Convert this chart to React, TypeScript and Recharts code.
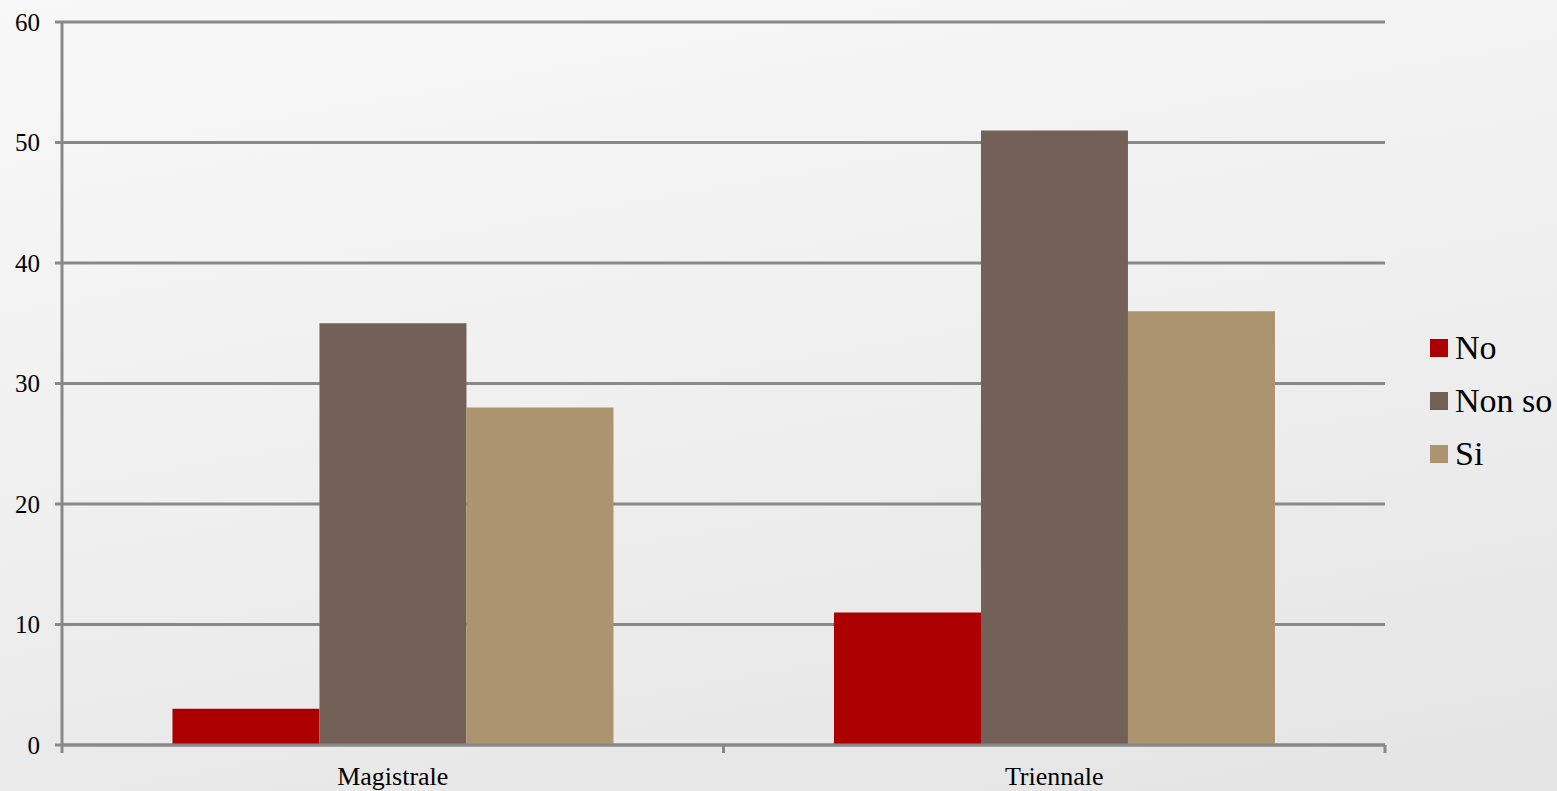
import { Bar, BarChart, CartesianGrid, XAxis, YAxis } from 'recharts';

const categories = ['Magistrale', 'Triennale'];
const noValues = [3, 11];
const nonSoValues = [35, 51];
const siValues = [28, 36];
const yTicks = [0, 10, 20, 30, 40, 50, 60];

const series = [
  { key: 'No', color: '#AC0000' },
  { key: 'Non so', color: '#736056' },
  { key: 'Si', color: '#AD9470' },
];

const data = categories.map((name, i) => ({
  name,
  No: noValues[i],
  'Non so': nonSoValues[i],
  Si: siValues[i],
}));

const W = 1557;
const H = 791;
const margin = { top: 22, right: 172, left: 0, bottom: 0 };
const axisColor = '#898989';
const font = 'Liberation Serif';
const halfBand = (W - 62 - margin.right) / categories.length / 2;

function CategoryTick(props: any) {
  const { x, y, payload, index } = props;
  const top = y - 8;
  return (
    <g>
      <line x1={x - halfBand} x2={x - halfBand} y1={top} y2={top + 8} stroke={axisColor} strokeWidth={3} />
      {index === categories.length - 1 && (
        <line x1={x + halfBand} x2={x + halfBand} y1={top} y2={top + 8} stroke={axisColor} strokeWidth={3} />
      )}
      <text x={x} y={top + 40} textAnchor="middle" fontFamily={font} fontSize={26} fill="#000">
        {payload.value}
      </text>
    </g>
  );
}

export default function App() {
  return (
    <div
      style={{
        position: 'absolute',
        left: 0,
        top: 0,
        width: W,
        height: H,
        background: 'linear-gradient(170deg, #F8F8F8 0%, #EFEFEF 50%, #E4E4E4 100%)',
      }}
    >
      <BarChart width={W} height={H} data={data} margin={margin} barCategoryGap="16.7%" barGap={0}>
        <CartesianGrid vertical={false} stroke={axisColor} strokeWidth={3} />
        <XAxis
          dataKey="name"
          height={46}
          axisLine={{ stroke: axisColor, strokeWidth: 3 }}
          tickLine={false}
          tick={<CategoryTick />}
          interval={0}
        />
        <YAxis
          width={62}
          domain={[0, 60]}
          ticks={yTicks}
          interval={0}
          axisLine={{ stroke: axisColor, strokeWidth: 3 }}
          tickLine={{ stroke: axisColor, strokeWidth: 3 }}
          tickSize={7}
          tickMargin={15}
          tick={{ fontFamily: font, fontSize: 25, fill: '#000' }}
        />
        {series.map((s) => (
          <Bar key={s.key} dataKey={s.key} fill={s.color} isAnimationActive={false} />
        ))}
      </BarChart>
      <svg width={140} height={170} style={{ position: 'absolute', left: 1425, top: 320 }}>
        {series.map((s, i) => (
          <g key={s.key}>
            <rect x={5} y={19 + i * 53} width={18} height={18} fill={s.color} />
            <text x={30} y={39 + i * 53} fontFamily={font} fontSize={34} fill="#000">
              {s.key}
            </text>
          </g>
        ))}
      </svg>
    </div>
  );
}
